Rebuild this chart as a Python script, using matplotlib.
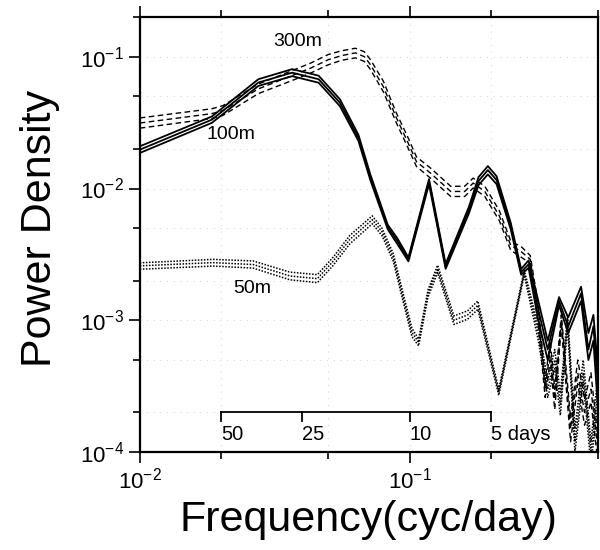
import matplotlib
matplotlib.use("Agg")
import matplotlib.pyplot as plt
from matplotlib.ticker import LogLocator, NullFormatter, LogFormatterSciNotation

plt.rcParams["font.family"] = ["Liberation Sans", "DejaVu Sans"]
plt.rcParams["mathtext.fontset"] = "custom"
plt.rcParams["mathtext.rm"] = "Liberation Sans"
plt.rcParams["mathtext.it"] = "Liberation Sans"
plt.rcParams["mathtext.default"] = "regular"

# 100m (solid) -- three parallel estimates
freq_100 = [0.010, 0.0185, 0.0275, 0.0367, 0.046, 0.0552, 0.0646, 0.0716, 0.083, 0.090,
            0.099, 0.118, 0.136, 0.166, 0.180, 0.195, 0.210, 0.237, 0.259, 0.276,
            0.300, 0.325, 0.358, 0.387, 0.432, 0.460, 0.480, 0.500]
p100_hi = [0.0209, 0.0352, 0.0675, 0.0805, 0.0718, 0.0475, 0.0256, 0.0127, 0.0053, 0.0042,
           0.0030, 0.0118, 0.00268, 0.0073, 0.0122, 0.0148, 0.0124, 0.0055, 0.00245, 0.00285,
           0.0014, 0.0007, 0.0015, 0.00105, 0.0018, 0.0008, 0.0011, 0.0004]
p100_mid = [0.0197, 0.0333, 0.0637, 0.0757, 0.0675, 0.0447, 0.0243, 0.0121, 0.0051, 0.0040,
            0.0029, 0.0113, 0.00257, 0.0069, 0.0114, 0.0138, 0.0116, 0.00516, 0.00232, 0.00266,
            0.0012, 0.0006, 0.0014, 0.0009, 0.0016, 0.0006, 0.0009, 0.0003]
p100_lo = [0.0186, 0.0315, 0.0600, 0.0712, 0.0635, 0.0421, 0.0230, 0.0115, 0.0049, 0.0038,
           0.0028, 0.0108, 0.00246, 0.0065, 0.0106, 0.0128, 0.0108, 0.0049, 0.00222, 0.00250,
           0.0010, 0.0005, 0.0013, 0.0008, 0.0014, 0.0005, 0.0007, 0.0002]

# 300m (dashed)
freq_300 = [0.010, 0.0185, 0.0203, 0.0275, 0.0367, 0.043, 0.050, 0.056, 0.063, 0.068,
            0.0716, 0.080, 0.089, 0.0985, 0.106, 0.120, 0.142, 0.160, 0.172, 0.190,
            0.215, 0.237, 0.260, 0.280, 0.300, 0.318, 0.332, 0.345, 0.365, 0.395,
            0.420, 0.445, 0.470, 0.500]
p300_hi = [0.0343, 0.0403, 0.0425, 0.0620, 0.0785, 0.0895, 0.104, 0.111, 0.116, 0.109,
           0.095, 0.065, 0.038, 0.0245, 0.0174, 0.0142, 0.0104, 0.0104, 0.0120, 0.0104,
           0.0068, 0.0040, 0.0036, 0.0031, 0.0013, 0.00035, 0.0007, 0.0003, 0.0011, 0.00018,
           0.0005, 0.00025, 0.0004, 0.00012]
p300_mid = [0.0314, 0.0370, 0.0390, 0.0570, 0.0720, 0.0820, 0.095, 0.102, 0.107, 0.100,
            0.087, 0.059, 0.035, 0.0224, 0.0160, 0.0130, 0.0095, 0.0095, 0.0110, 0.0095,
            0.0062, 0.0037, 0.0033, 0.0029, 0.0011, 0.0003, 0.0006, 0.00025, 0.0010, 0.00015,
            0.0004, 0.0002, 0.0003, 0.0001]
p300_lo = [0.0287, 0.0340, 0.0358, 0.0525, 0.0660, 0.0752, 0.087, 0.094, 0.098, 0.092,
           0.080, 0.054, 0.032, 0.0205, 0.0147, 0.0119, 0.0087, 0.0087, 0.0101, 0.0087,
           0.0057, 0.0034, 0.0030, 0.0027, 0.0009, 0.00026, 0.0005, 0.00021, 0.0009, 0.00012,
           0.00033, 0.00016, 0.00024, 0.00008]

# 50m (dotted)
freq_50 = [0.010, 0.0187, 0.0263, 0.036, 0.0455, 0.052, 0.060, 0.0727, 0.079, 0.087,
           0.095, 0.102, 0.108, 0.117, 0.127, 0.138, 0.146, 0.164, 0.179, 0.214,
           0.266, 0.300, 0.325, 0.345, 0.362, 0.385, 0.410, 0.440, 0.470, 0.500]
p50_hi = [0.00273, 0.00290, 0.00282, 0.00232, 0.00222, 0.0030, 0.0044, 0.0062, 0.0050, 0.0032,
          0.00155, 0.00087, 0.00072, 0.0017, 0.00262, 0.00155, 0.00108, 0.00118, 0.00140, 0.00030,
          0.0024, 0.0009, 0.00035, 0.0006, 0.00028, 0.0011, 0.00015, 0.0005, 0.00012, 0.0004]
p50_mid = [0.00259, 0.00274, 0.00265, 0.00217, 0.00207, 0.0028, 0.0041, 0.0058, 0.0047, 0.0030,
           0.00144, 0.00081, 0.00068, 0.0016, 0.00246, 0.00144, 0.0010, 0.0011, 0.00130, 0.000285,
           0.0023, 0.0008, 0.0003, 0.0005, 0.00023, 0.0010, 0.00012, 0.0004, 0.0001, 0.0003]
p50_lo = [0.00244, 0.00258, 0.00249, 0.00203, 0.00193, 0.0026, 0.0038, 0.0054, 0.0044, 0.0028,
          0.00134, 0.00075, 0.00064, 0.0015, 0.00230, 0.00134, 0.00093, 0.00102, 0.00121, 0.000270,
          0.0022, 0.0007, 0.00026, 0.00043, 0.00019, 0.0009, 0.00010, 0.00034, 0.00008, 0.00025]

# period scale drawn inside the axes (days)
periods = [50, 25, 10, 5]
period_labels = ["50", "25", "10", "5 days"]

fig = plt.figure(figsize=(6, 5.5), dpi=100)
ax = fig.add_axes([0.233, 0.178, 0.764, 0.791])

for ys in (p100_hi, p100_mid, p100_lo):
    ax.plot(freq_100, ys, color="black", lw=1.3, ls="-")
for ys in (p300_hi, p300_mid, p300_lo):
    ax.plot(freq_300, ys, color="black", lw=1.0, ls=(0, (4, 2.5)))
for ys in (p50_hi, p50_mid, p50_lo):
    ax.plot(freq_50, ys, color="black", lw=1.1, ls=(0, (1, 1)))

ax.set_xscale("log")
ax.set_yscale("log")
ax.set_xlim(0.01, 0.5)
ax.set_ylim(1e-4, 0.2)

ax.xaxis.set_major_locator(LogLocator(base=10))
ax.xaxis.set_minor_locator(LogLocator(base=10, subs=(2, 5)))
ax.yaxis.set_major_locator(LogLocator(base=10))
ax.yaxis.set_minor_locator(LogLocator(base=10, subs=(2, 5)))
ax.xaxis.set_major_formatter(LogFormatterSciNotation())
ax.yaxis.set_major_formatter(LogFormatterSciNotation())
ax.xaxis.set_minor_formatter(NullFormatter())
ax.yaxis.set_minor_formatter(NullFormatter())
ax.tick_params(which="both", direction="out", top=True, right=False, labelsize=16, width=1.2)
ax.tick_params(which="major", length=8)
ax.tick_params(which="minor", length=5)
for s in ax.spines.values():
    s.set_linewidth(1.6)

ax.grid(True, which="both", color="0.75", ls=(0, (1, 7)), lw=0.6)

ax.set_xlabel("Frequency(cyc/day)", fontsize=31)
ax.set_ylabel("Power Density", fontsize=31)
ax.xaxis.set_label_coords(0.498, -0.11)
ax.yaxis.set_label_coords(-0.175, 0.515)

ax.text(0.0384, 0.130, "300m", fontsize=14, ha="center", va="center")
ax.text(0.0218, 0.0256, "100m", fontsize=14, ha="center", va="center")
ax.text(0.026, 0.00173, "50m", fontsize=14, ha="center", va="center")

# inner period scale
pf = [1.0 / p for p in periods]
ax.plot([pf[0], pf[-1]], [2.03e-4, 2.03e-4], color="black", lw=1.3)
for f, lab in zip(pf, period_labels):
    ax.plot([f, f], [2.03e-4, 1.72e-4], color="black", lw=1.3)
    ax.text(f, 1.36e-4, lab, fontsize=14.5, ha="left", va="center")

fig.savefig("out.png", dpi=100)
